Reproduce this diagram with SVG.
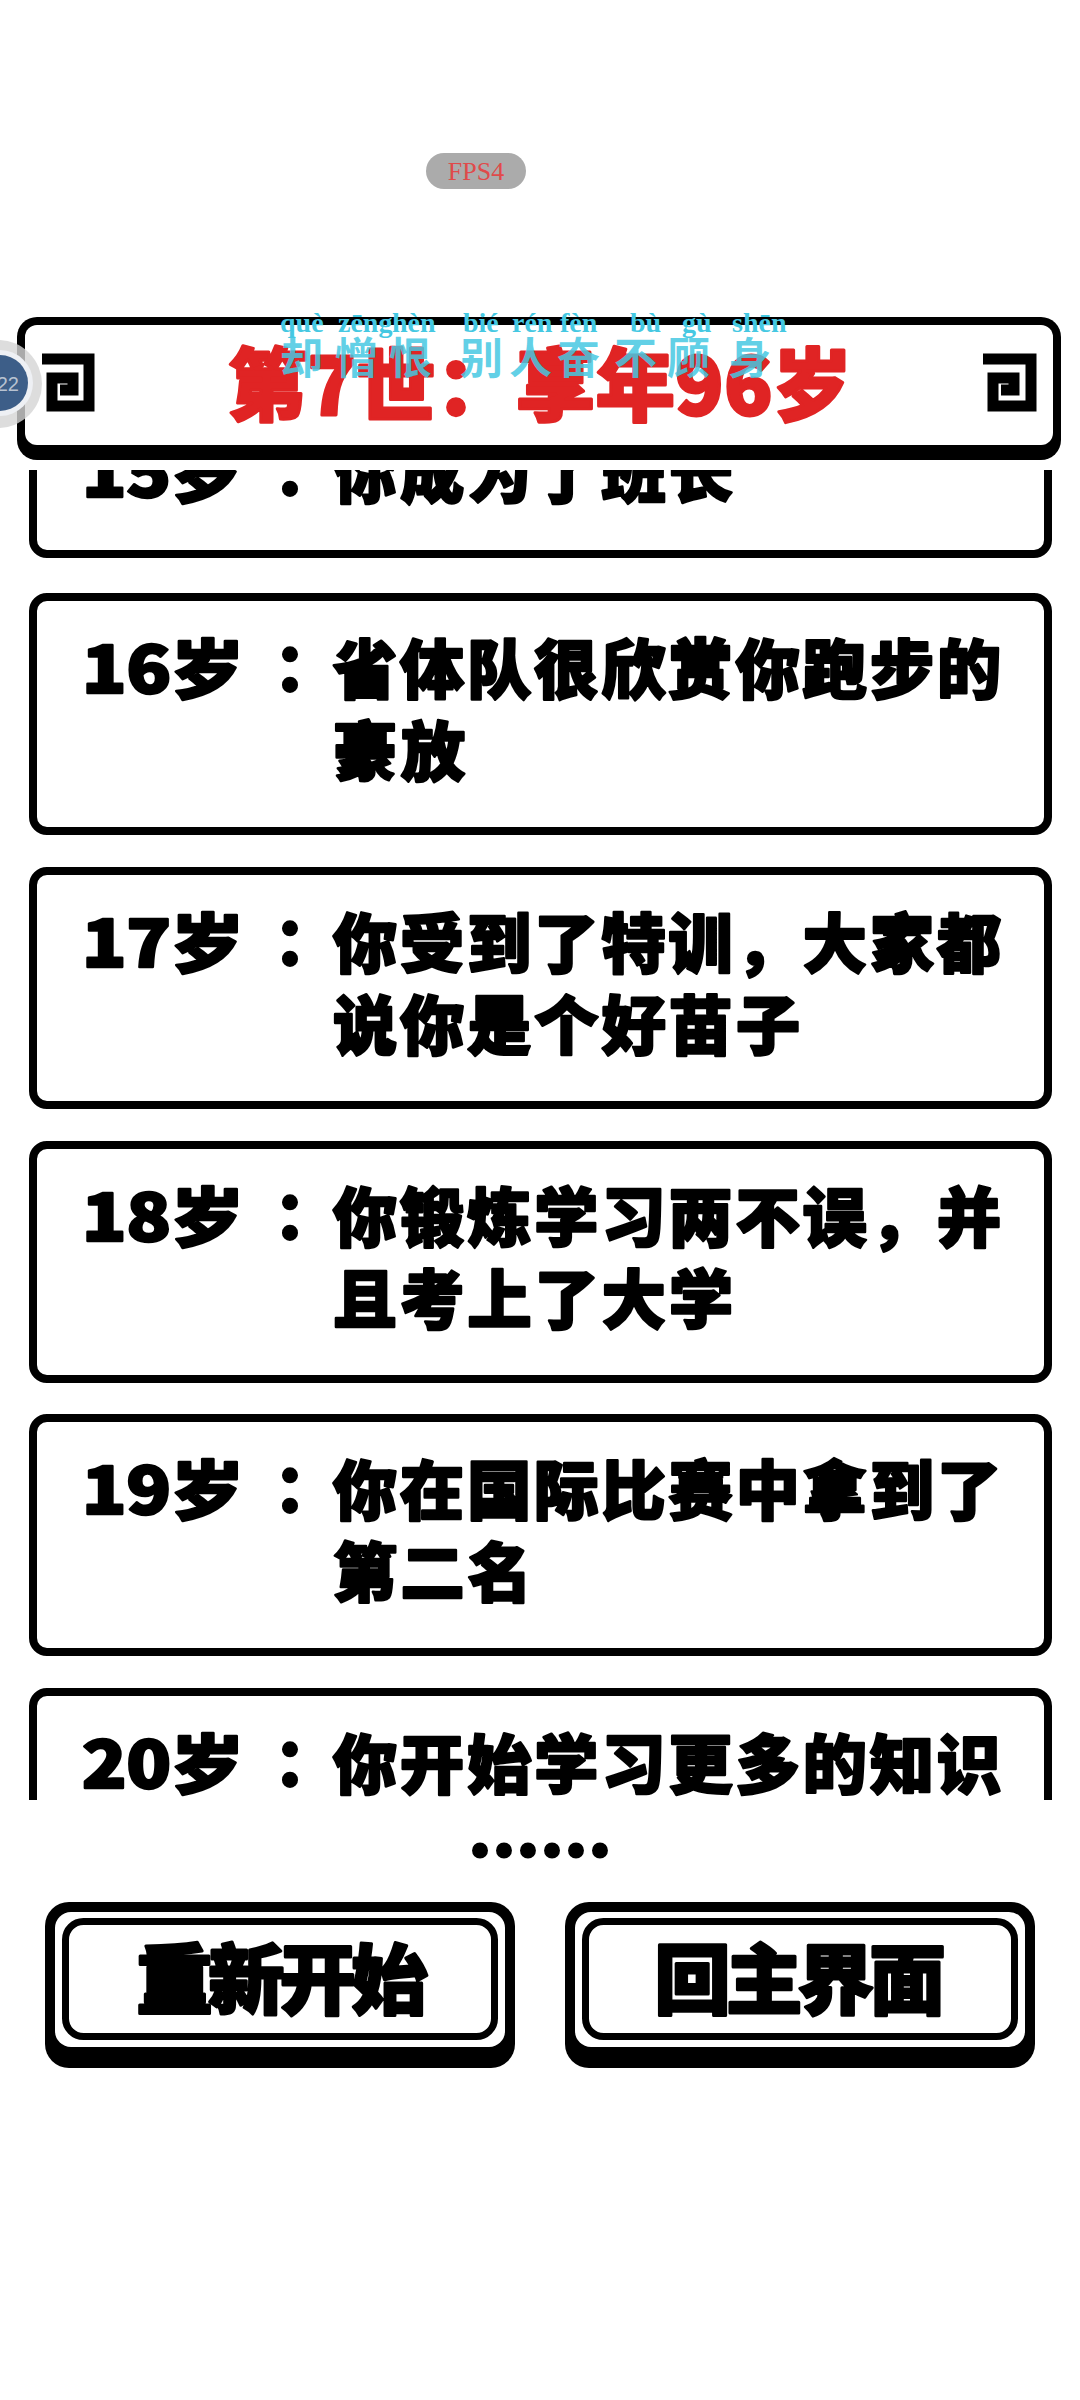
<svg xmlns="http://www.w3.org/2000/svg" width="1080" height="2400" viewBox="0 0 1080 2400">
<style>
.t{font-family:"Noto Sans CJK SC","Noto Sans CJK JP",sans-serif;font-weight:900;fill:#000;stroke:#000;stroke-width:2.5;stroke-linejoin:round}
.lbl{font-size:64px}
.col{font-family:"Noto Sans CJK TC",sans-serif;font-weight:900;font-size:64px;fill:#000;stroke:#000;stroke-width:2.5}
.card{fill:#fff;stroke:#000;stroke-width:8}
.py{font-family:"Liberation Serif",serif;font-weight:bold;font-size:28px;fill:#45c8e2}
.hz{font-family:"Noto Sans CJK SC",sans-serif;font-weight:bold;font-size:43px;fill:#45c8e2;fill-opacity:0.85}
.icon{fill:none;stroke:#000;stroke-width:11}
.btnt{font-family:"Noto Sans CJK SC",sans-serif;font-weight:900;font-size:76px;fill:#000;stroke:#000;stroke-width:3;stroke-linejoin:round}
</style>
<defs>
<clipPath id="list"><rect x="0" y="470" width="1080" height="1330"/></clipPath>
</defs>
<rect width="1080" height="2400" fill="#fff"/>

<g id="fps">
<rect x="426" y="153" width="100" height="36" rx="18" fill="#ababab"/>
<text x="476" y="180" text-anchor="middle" font-family="Liberation Serif" font-size="26" fill="#e04a4a">FPS4</text>
</g>

<g id="list-cards" clip-path="url(#list)">
<g id="card15">
<rect class="card" x="33" y="401" width="1015" height="153" rx="14"/>
<text class="t lbl" x="82" y="497" textLength="162" lengthAdjust="spacingAndGlyphs">15岁</text>
<text class="col" x="290" y="497" text-anchor="middle">：</text>
<text class="t lbl" x="333" y="497" textLength="400">你成为了班长</text>
</g>
<g id="card16">
<rect class="card" x="33" y="597" width="1015" height="234" rx="14"/>
<text class="t lbl" x="82" y="693" textLength="162" lengthAdjust="spacingAndGlyphs">16岁</text>
<text class="col" x="290" y="693" text-anchor="middle">：</text>
<text class="t lbl" x="333" y="693" textLength="668">省体队很欣赏你跑步的</text>
<text class="t lbl" x="333" y="775" textLength="132">豪放</text>
</g>
<g id="card17">
<rect class="card" x="33" y="871" width="1015" height="234" rx="14"/>
<text class="t lbl" x="82" y="967" textLength="162" lengthAdjust="spacingAndGlyphs">17岁</text>
<text class="col" x="290" y="967" text-anchor="middle">：</text>
<text class="t lbl" x="333" y="967" textLength="668">你受到了特训，大家都</text>
<text class="t lbl" x="333" y="1049" textLength="467">说你是个好苗子</text>
</g>
<g id="card18">
<rect class="card" x="33" y="1145" width="1015" height="234" rx="14"/>
<text class="t lbl" x="82" y="1241" textLength="162" lengthAdjust="spacingAndGlyphs">18岁</text>
<text class="col" x="290" y="1241" text-anchor="middle">：</text>
<text class="t lbl" x="333" y="1241" textLength="668">你锻炼学习两不误，并</text>
<text class="t lbl" x="333" y="1323" textLength="400">且考上了大学</text>
</g>
<g id="card19">
<rect class="card" x="33" y="1418" width="1015" height="234" rx="14"/>
<text class="t lbl" x="82" y="1514" textLength="162" lengthAdjust="spacingAndGlyphs">19岁</text>
<text class="col" x="290" y="1514" text-anchor="middle">：</text>
<text class="t lbl" x="333" y="1514" textLength="668">你在国际比赛中拿到了</text>
<text class="t lbl" x="333" y="1596" textLength="199">第二名</text>
</g>
<g id="card20">
<rect class="card" x="33" y="1692" width="1015" height="234" rx="14"/>
<text class="t lbl" x="82" y="1788" textLength="162" lengthAdjust="spacingAndGlyphs">20岁</text>
<text class="col" x="290" y="1788" text-anchor="middle">：</text>
<text class="t lbl" x="333" y="1788" textLength="668">你开始学习更多的知识</text>
</g>
</g>

<g id="title">
<rect x="17" y="317" width="1044" height="143" rx="20" fill="#000"/>
<rect x="25" y="325" width="1028" height="120" rx="12" fill="#fff"/>
<path class="icon" d="M42,359 H89 V406 H52 V378 H73 V390 H60"/>
<path class="icon" d="M983,359 H1031 V406 H993 V378 H1014 V390 H1001"/>
<text x="228" y="415" font-family="Noto Sans CJK SC,sans-serif" font-weight="900" font-size="79" fill="#e02424" stroke="#e02424" stroke-width="3" stroke-linejoin="round" textLength="624">第7世：享年96岁</text>
</g>

<g id="overlay">
<text class="py" x="280" y="332">què</text>
<text class="py" x="338" y="332">zēng</text>
<text class="py" x="392" y="332">hèn</text>
<text class="py" x="463" y="332">bié</text>
<text class="py" x="512" y="332">rén</text>
<text class="py" x="560" y="332">fèn</text>
<text class="py" x="630" y="332">bù</text>
<text class="py" x="682" y="332">gù</text>
<text class="py" x="732" y="332">shēn</text>
<text class="hz" x="280" y="374">却</text>
<text class="hz" x="335" y="374">憎</text>
<text class="hz" x="389" y="374">恨</text>
<text class="hz" x="460" y="374">别</text>
<text class="hz" x="509" y="374">人</text>
<text class="hz" x="557" y="374">奋</text>
<text class="hz" x="614" y="374">不</text>
<text class="hz" x="667" y="374">顾</text>
<text class="hz" x="728" y="374">身</text>
</g>

<g id="float-btn">
<circle cx="-2" cy="384" r="44" fill="#d4d4d4" fill-opacity="0.8"/>
<circle cx="0" cy="383" r="33" fill="#eef0f4"/>
<circle cx="0" cy="383" r="28" fill="#3d5e88"/>
<text x="19" y="391" text-anchor="end" font-family="Liberation Sans,sans-serif" font-size="20" fill="#b8c2d0">22</text>
</g>

<g id="dots">
<text x="540" y="1877" text-anchor="middle" font-family="Noto Sans CJK SC,sans-serif" font-weight="900" font-size="72" fill="#000" stroke="#000" stroke-width="3">……</text>
</g>

<g id="btn-restart">
<rect x="45" y="1902" width="470" height="166" rx="24" fill="#000"/>
<rect x="55" y="1912" width="450" height="135" rx="16" fill="#fff"/>
<rect x="65.5" y="1921.5" width="429" height="115" rx="18" fill="#fff" stroke="#000" stroke-width="7"/>
<text class="btnt" x="282" y="2008" text-anchor="middle" textLength="291">重新开始</text>
</g>
<g id="btn-home">
<rect x="565" y="1902" width="470" height="166" rx="24" fill="#000"/>
<rect x="575" y="1912" width="450" height="135" rx="16" fill="#fff"/>
<rect x="585.5" y="1921.5" width="429" height="115" rx="18" fill="#fff" stroke="#000" stroke-width="7"/>
<text class="btnt" x="800" y="2008" text-anchor="middle" textLength="291">回主界面</text>
</g>
</svg>
